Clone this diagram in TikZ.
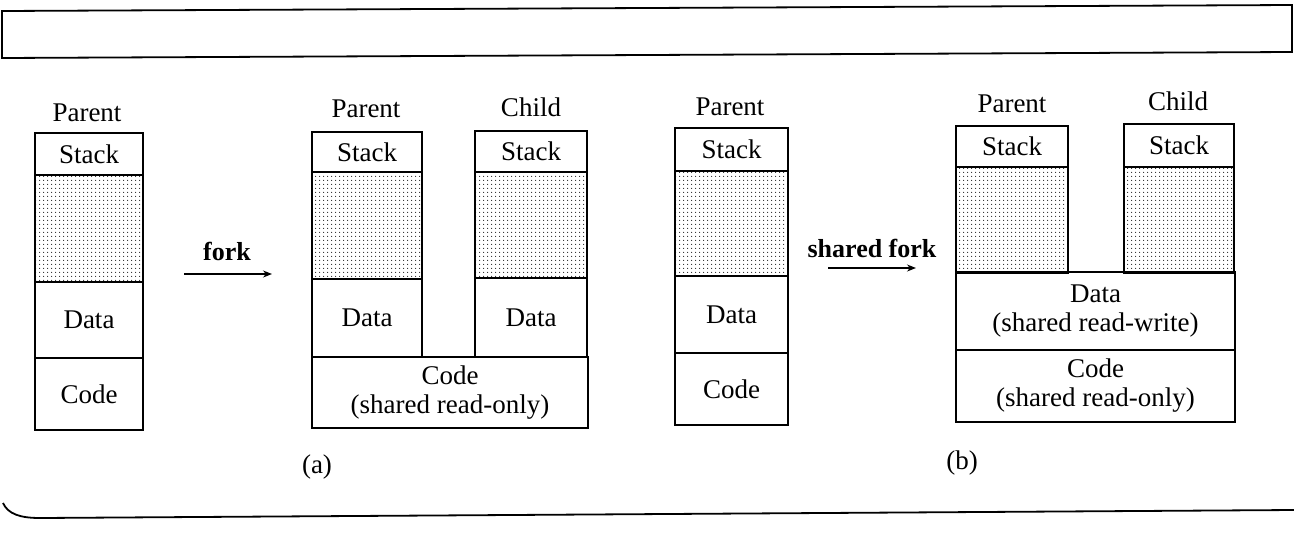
\documentclass[tikz,border=0pt]{standalone}
\usepackage{fontspec}
\setmainfont{Liberation Serif}
\usetikzlibrary{patterns.meta,arrows.meta}
\begin{document}
\begin{tikzpicture}[x=1pt,y=-1pt,
  seg/.style={draw,line width=2pt,inner sep=0pt,outer sep=0pt,anchor=north west,
    font=\fontsize{27}{29}\selectfont,align=center},
  stip/.style={seg,pattern={Dots[distance=4pt,radius=0.65pt]},pattern color=black!85},
  lbl/.style={inner sep=0pt,anchor=base,font=\fontsize{27}{29}\selectfont},
  blbl/.style={lbl,font=\fontsize{26}{28}\selectfont\bfseries},
  arr/.style={line width=1.3pt,-{Stealth[length=9pt,width=7pt]}}]
\useasboundingbox (0,0) rectangle (1294,544);
% frame at the top and rule at the bottom
\draw[line width=1.8pt] (2,11) -- (1292,5) -- (1292,52) -- (2,58) -- cycle;
\draw[line width=1.8pt] (3,503) .. controls (8,514) and (20,518) .. (40,518) -- (1294,510);

% ---- (a) left: parent before fork
\node[lbl] (p1) at (87,121) {Parent};
\node[seg,minimum width=108pt,minimum height=42pt] (p1s) at (35,133) {Stack};
\node[stip,minimum width=108pt,minimum height=107pt] (p1h) at (35,175) {};
\node[seg,minimum width=108pt,minimum height=76pt] (p1d) at (35,282) {Data};
\node[seg,minimum width=108pt,minimum height=72pt] (p1c) at (35,358) {Code};

\node[blbl] (fk) at (227,260) {fork};
\coordinate (fa) at (184,274);
\coordinate (fb) at (272,274);
\draw[arr] (fa) -- (fb);

% ---- (a) right: parent and child after fork
\node[lbl] (p2) at (366,117) {Parent};
\node[seg,minimum width=110pt,minimum height=40pt] (p2s) at (312,132) {Stack};
\node[stip,minimum width=110pt,minimum height=107pt] (p2h) at (312,172) {};
\node[seg,minimum width=110pt,minimum height=78pt] (p2d) at (312,279) {Data};
\node[lbl] (c2) at (531,116) {Child};
\node[seg,minimum width=112pt,minimum height=41pt] (c2s) at (475,131) {Stack};
\node[stip,minimum width=112pt,minimum height=106pt] (c2h) at (475,172) {};
\node[seg,minimum width=112pt,minimum height=79pt] (c2d) at (475,278) {Data};
\node[seg,minimum width=276pt,minimum height=71pt] (a2c) at (312,357) {Code\\(shared read-only)};
\node[lbl] (la) at (317,473) {(a)};

% ---- (b) left: parent before shared fork
\node[lbl] (p3) at (730,115) {Parent};
\node[seg,minimum width=113pt,minimum height=43pt] (p3s) at (675,128) {Stack};
\node[stip,minimum width=113pt,minimum height=105pt] (p3h) at (675,171) {};
\node[seg,minimum width=113pt,minimum height=77pt] (p3d) at (675,276) {Data};
\node[seg,minimum width=113pt,minimum height=72pt] (p3c) at (675,353) {Code};

\node[blbl] (sf) at (872,257) {shared fork};
\coordinate (sa) at (828,268);
\coordinate (sb) at (916,268);
\draw[arr] (sa) -- (sb);

% ---- (b) right: parent and child after shared fork
\node[lbl] (p4) at (1012,112) {Parent};
\node[seg,minimum width=112pt,minimum height=41pt] (p4s) at (956,126) {Stack};
\node[stip,minimum width=112pt,minimum height=106pt] (p4h) at (956,167) {};
\node[lbl] (c4) at (1178,110) {Child};
\node[seg,minimum width=110pt,minimum height=43pt] (c4s) at (1124,124) {Stack};
\node[stip,minimum width=110pt,minimum height=106pt] (c4h) at (1124,167) {};
\node[seg,minimum width=279pt,minimum height=78pt] (b4d) at (956,272) {Data\\(shared read-write)};
\node[seg,minimum width=279pt,minimum height=72pt] (b4c) at (956,350) {Code\\(shared read-only)};
\node[lbl] (lb) at (962,469) {(b)};
\end{tikzpicture}
\end{document}
